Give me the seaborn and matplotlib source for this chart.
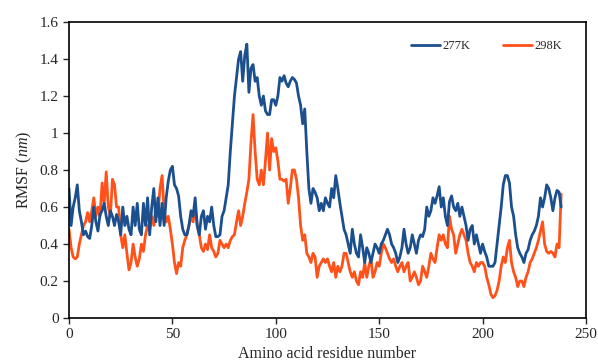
import numpy as np
import pandas as pd
import matplotlib
matplotlib.use("Agg")
import matplotlib.pyplot as plt
from matplotlib.ticker import FuncFormatter
from matplotlib.lines import Line2D
import seaborn as sns

residues = list(range(0, 239))

rmsf_277K = [
    0.70, 0.50, 0.60, 0.65, 0.72, 0.58, 0.52, 0.45, 0.47, 0.44,
    0.43, 0.50, 0.60, 0.52, 0.47, 0.56, 0.58, 0.62, 0.55, 0.50,
    0.58, 0.55, 0.50, 0.56, 0.52, 0.45, 0.60, 0.50, 0.55, 0.48,
    0.45, 0.60, 0.50, 0.62, 0.48, 0.45, 0.62, 0.50, 0.65, 0.45,
    0.60, 0.70, 0.52, 0.65, 0.50, 0.62, 0.50, 0.65, 0.74, 0.80,
    0.82, 0.72, 0.70, 0.66, 0.55, 0.48, 0.45, 0.45, 0.50, 0.58,
    0.55, 0.65, 0.50, 0.45, 0.55, 0.58, 0.48, 0.55, 0.52, 0.60,
    0.50, 0.44, 0.44, 0.45, 0.55, 0.58, 0.65, 0.72, 0.90, 1.05,
    1.20, 1.30, 1.40, 1.44, 1.28, 1.42, 1.48, 1.22, 1.35, 1.37,
    1.28, 1.30, 1.20, 1.15, 1.20, 1.12, 1.10, 1.10, 1.18, 1.18,
    1.15, 1.20, 1.30, 1.28, 1.31, 1.27, 1.25, 1.28, 1.30, 1.29,
    1.27, 1.20, 1.15, 1.05, 1.13, 0.90, 0.70, 0.62, 0.70, 0.68,
    0.65, 0.58, 0.62, 0.58, 0.65, 0.62, 0.60, 0.70, 0.65, 0.77,
    0.70, 0.62, 0.55, 0.48, 0.45, 0.40, 0.35, 0.48, 0.40, 0.35,
    0.33, 0.45, 0.38, 0.30, 0.38, 0.35, 0.30, 0.35, 0.40, 0.38,
    0.35, 0.40, 0.42, 0.45, 0.48, 0.45, 0.40, 0.38, 0.35, 0.30,
    0.33, 0.38, 0.48, 0.40, 0.35, 0.38, 0.45, 0.40, 0.35, 0.42,
    0.45, 0.44, 0.48, 0.60, 0.55, 0.58, 0.65, 0.62, 0.66, 0.71,
    0.60, 0.65, 0.55, 0.50, 0.63, 0.66, 0.60, 0.58, 0.62, 0.55,
    0.60, 0.55, 0.50, 0.42, 0.48, 0.50, 0.40, 0.45, 0.40, 0.35,
    0.40, 0.36, 0.33, 0.28, 0.28, 0.28, 0.30, 0.40, 0.50, 0.60,
    0.72, 0.77, 0.77, 0.73, 0.60, 0.55, 0.45, 0.38, 0.35, 0.33,
    0.30, 0.35, 0.37, 0.42, 0.45, 0.47, 0.50, 0.55, 0.65, 0.60,
    0.65, 0.72, 0.70, 0.65, 0.58, 0.65, 0.69, 0.68, 0.60,
]

rmsf_298K = [
    0.48, 0.38, 0.33, 0.32, 0.33, 0.40, 0.45, 0.50, 0.52, 0.57,
    0.52, 0.58, 0.65, 0.55, 0.60, 0.55, 0.73, 0.62, 0.79, 0.60,
    0.55, 0.75, 0.72, 0.60, 0.60, 0.45, 0.38, 0.45, 0.35, 0.26,
    0.30, 0.40, 0.33, 0.28, 0.32, 0.40, 0.36, 0.45, 0.50, 0.48,
    0.55, 0.50, 0.60, 0.55, 0.70, 0.77, 0.58, 0.52, 0.55, 0.48,
    0.40, 0.30, 0.24, 0.30, 0.28, 0.38, 0.42, 0.45, 0.50, 0.55,
    0.52, 0.60, 0.50, 0.45, 0.38, 0.36, 0.40, 0.37, 0.45, 0.38,
    0.36, 0.33, 0.35, 0.42, 0.40, 0.38, 0.40, 0.38, 0.42, 0.44,
    0.45, 0.52, 0.58, 0.50, 0.55, 0.62, 0.68, 0.75, 0.95, 1.10,
    0.90, 0.75, 0.72, 0.80, 0.72, 0.85, 1.00, 0.80, 0.97, 0.90,
    0.92, 0.85, 0.75, 0.75, 0.74, 0.75, 0.62, 0.70, 0.80, 0.80,
    0.75, 0.65, 0.50, 0.42, 0.45, 0.35, 0.33, 0.30, 0.35, 0.33,
    0.22, 0.28, 0.30, 0.32, 0.30, 0.32, 0.28, 0.25, 0.30, 0.22,
    0.28, 0.25, 0.28, 0.35, 0.35, 0.30, 0.25, 0.22, 0.25, 0.20,
    0.18, 0.25, 0.22, 0.30, 0.22, 0.28, 0.32, 0.22, 0.25, 0.30,
    0.28, 0.35, 0.40, 0.38, 0.35, 0.32, 0.30, 0.32, 0.28, 0.25,
    0.28, 0.30, 0.25, 0.28, 0.30, 0.20, 0.22, 0.25, 0.22, 0.18,
    0.20, 0.28, 0.25, 0.22, 0.28, 0.35, 0.32, 0.30, 0.38, 0.45,
    0.42, 0.45, 0.40, 0.38, 0.55, 0.48, 0.45, 0.35, 0.40, 0.45,
    0.48, 0.45, 0.42, 0.35, 0.30, 0.28, 0.25, 0.30, 0.28, 0.30,
    0.30, 0.28, 0.22, 0.18, 0.13, 0.11, 0.12, 0.15, 0.20, 0.28,
    0.33, 0.30, 0.38, 0.42, 0.30, 0.25, 0.22, 0.17, 0.20, 0.20,
    0.17, 0.22, 0.25, 0.30, 0.32, 0.35, 0.38, 0.42, 0.47, 0.52,
    0.40, 0.36, 0.35, 0.36, 0.35, 0.33, 0.40, 0.38, 0.67,
]

series_names = ["277K", "298K"]
colors = {"277K": "#1b4f8e", "298K": "#ff5119"}

df = pd.concat([
    pd.DataFrame({"residue": residues, "rmsf": rmsf_298K, "temp": "298K"}),
    pd.DataFrame({"residue": residues, "rmsf": rmsf_277K, "temp": "277K"}),
])

sns.set_style("ticks")
plt.rcParams["font.family"] = ["Liberation Serif", "DejaVu Serif"]
plt.rcParams["mathtext.fontset"] = "custom"
plt.rcParams["mathtext.it"] = "Liberation Serif:italic"
plt.rcParams["mathtext.rm"] = "Liberation Serif"

fig = plt.figure(figsize=(5.98, 3.61), dpi=100)
ax = fig.add_axes([0.1154, 0.119, 0.8645, 0.820])

sns.lineplot(data=df, x="residue", y="rmsf", hue="temp",
             hue_order=["298K", "277K"], palette=colors,
             linewidth=2.0, ax=ax, legend=False, estimator=None)

ax.set_xlim(0, 250)
ax.set_ylim(0, 1.6)
ax.set_xticks([0, 50, 100, 150, 200, 250])
ax.set_yticks([0, 0.2, 0.4, 0.6, 0.8, 1.0, 1.2, 1.4, 1.6])
ax.yaxis.set_major_formatter(FuncFormatter(lambda v, p: "%g" % round(v, 2)))
ax.tick_params(axis="both", labelsize=11, direction="out", length=4, width=1)
for s in ax.spines.values():
    s.set_visible(True)
    s.set_linewidth(1.2)
    s.set_color("black")

ax.set_xlabel("Amino acid residue number", fontsize=11.5, labelpad=3)
ax.set_ylabel("RMSF ($nm$)", fontsize=11.5, labelpad=4)

handles = [Line2D([], [], color=colors[n], linewidth=2.0) for n in series_names]
ax.legend(handles, series_names, ncol=2, frameon=False, fontsize=9,
          loc="center right", bbox_to_anchor=(0.975, 0.918),
          handlelength=2.3, columnspacing=2.6, handletextpad=0.2)

fig.savefig("out.png", dpi=100)
